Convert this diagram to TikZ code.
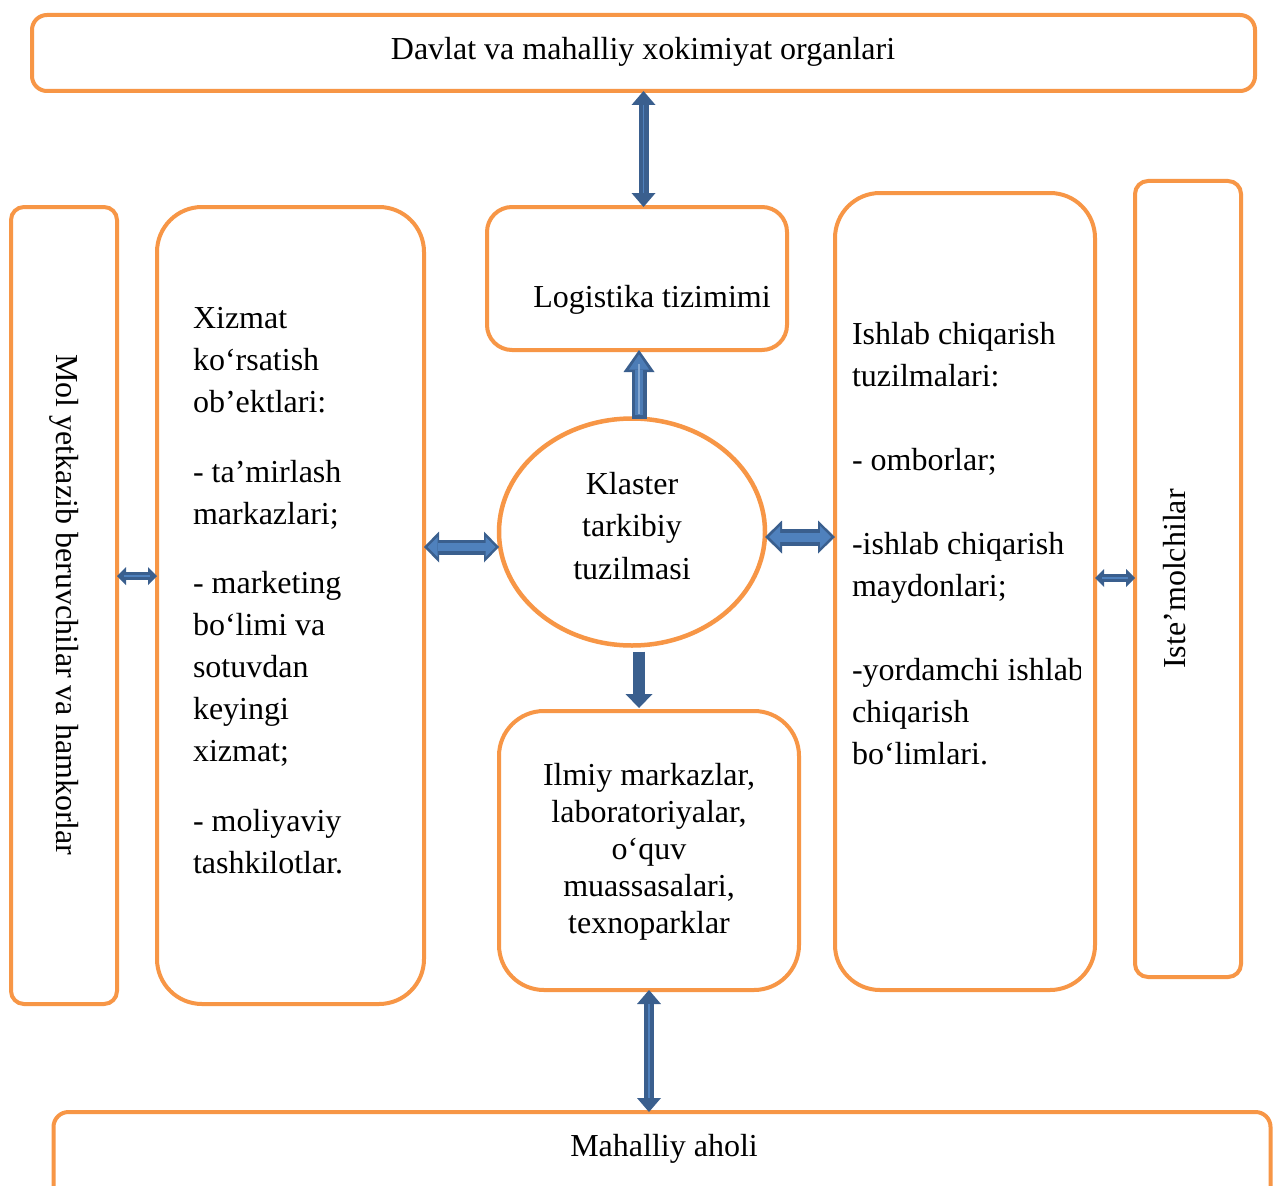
\documentclass[tikz,border=0pt]{standalone}
\usepackage{fontspec}
\setmainfont{Liberation Serif}
\usetikzlibrary{shapes.geometric,arrows.meta,calc}
\definecolor{orng}{HTML}{F79646}
\definecolor{adark}{HTML}{3A5F8E}
\definecolor{alight}{HTML}{4F81BD}
\tikzset{
  box/.style={draw=orng, line width=4pt, inner sep=0pt, outer sep=0pt, fill=white},
  txt/.style={font=\fontsize{32}{42}\selectfont, inner sep=0pt, outer sep=0pt},
  dk/.style={draw=adark, line width=#1},
  lt/.style={draw=alight, line width=#1},
}
\begin{document}
\begin{tikzpicture}[x=1pt,y=-1pt]
\clip (0,0) rectangle (1273,1185);
\fill[white] (0,0) rectangle (1273,1185);

% boxes
\node[box, rounded corners=15pt, minimum width=1223pt, minimum height=76pt] (top) at (643.5,53) {};
\node[box, rounded corners=13pt, minimum width=106pt, minimum height=797pt] (lnar) at (64,605.5) {};
\node[box, rounded corners=45pt, minimum width=267pt, minimum height=797pt] (lbig) at (290.5,605.5) {};
\node[box, rounded corners=25pt, minimum width=300pt, minimum height=143pt] (logi) at (637,278.5) {};
\node[box, ellipse, line width=4.5pt, minimum width=266pt, minimum height=227pt] (ell) at (632,532) {};
\node[box, rounded corners=45pt, minimum width=300pt, minimum height=279pt] (ilm) at (649,850.5) {};
\node[box, rounded corners=45pt, minimum width=260pt, minimum height=797pt] (rbig) at (965,591.5) {};
\node[box, rounded corners=13pt, minimum width=106pt, minimum height=796pt] (rnar) at (1188,579) {};
\node[box, rounded corners=15pt, minimum width=1217pt, minimum height=148pt] (bot) at (662,1186) {};

% texts
\node[txt] (ttop) at (643,52) {Davlat va mahalliy xokimiyat organlari};
\node[txt, rotate=-90] (tlnar) at (64,605) {Mol yetkazib beruvchilar va hamkorlar};
\node[txt, align=left, anchor=north west] (tlbig) at (193,307) {Xizmat\\ko‘rsatish\\ob’ektlari:\\[28pt]- ta’mirlash\\markazlari;\\[27pt]- marketing\\bo‘limi va\\sotuvdan\\keyingi\\xizmat;\\[28pt]- moliyaviy\\tashkilotlar.};
\node[txt] (tlogi) at (652,300) {Logistika tizimimi};
\node[txt, align=center, font=\fontsize{32}{42.5}\selectfont] (tell) at (632,526) {Klaster\\tarkibiy\\tuzilmasi};
\node[txt, align=center, font=\fontsize{32}{37}\selectfont] (tilm) at (649,852) {Ilmiy markazlar,\\laboratoriyalar,\\o‘quv\\muassasalari,\\texnoparklar};
\begin{scope}
\clip (835,193) rectangle (1080,990);
\node[txt, align=left, anchor=north west] (trbig) at (852,322) {Ishlab chiqarish\\tuzilmalari:\\[42pt]- omborlar;\\[42pt]-ishlab chiqarish\\maydonlari;\\[42pt]-yordamchi ishlab\\chiqarish\\bo‘limlari.};
\end{scope}
\node[txt, rotate=90] (trnar) at (1175,579) {Iste’molchilar};
\node[txt] (tbot) at (664,1149) {Mahalliy aholi};

% arrows
% top double
\draw[dk=10pt, {Triangle[width=24pt,length=14pt,line width=0pt]}-{Triangle[width=24pt,length=14pt,line width=0pt]}] (top.south) -- (top.south |- logi.north);
\draw[lt=1.5pt, shorten <=14pt, shorten >=14pt] (top.south) -- (top.south |- logi.north);
% ellipse -> logistika
\draw[dk=15pt, -{Triangle[width=31pt,length=22pt,line width=0pt]}] ([xshift=7pt]ell.north) -- ([xshift=7pt]ell.north |- logi.south);
\draw[draw=alight!85!adark, line width=8pt, shorten <=3.5pt, shorten >=4.5pt, -{Triangle[width=20pt,length=15pt,line width=0pt]}] ([xshift=7pt]ell.north) -- ([xshift=7pt]ell.north |- logi.south);
\draw[lt=2.5pt, draw=alight!70!white, shorten <=5pt, shorten >=14pt] ([xshift=7pt]ell.north) -- ([xshift=7pt]ell.north |- logi.south);
% ellipse <-> left big
\draw[dk=15pt, {Triangle[width=31pt,length=15pt,line width=0pt]}-{Triangle[width=31pt,length=15pt,line width=0pt]}] ([yshift=-15pt]ell.west) -- ([yshift=-15pt]ell.west -| lbig.east);
\draw[lt=8pt, shorten <=3.5pt, shorten >=3.5pt, {Triangle[width=20pt,length=10pt,line width=0pt]}-{Triangle[width=20pt,length=10pt,line width=0pt]}] ([yshift=-15pt]ell.west) -- ([yshift=-15pt]ell.west -| lbig.east);
% ellipse <-> right big
\draw[dk=17pt, {Triangle[width=33pt,length=17pt,line width=0pt]}-{Triangle[width=33pt,length=17pt,line width=0pt]}] ([yshift=-5pt]ell.east) -- ([yshift=-5pt]ell.east -| rbig.west);
\draw[lt=9pt, shorten <=4pt, shorten >=4pt, {Triangle[width=22pt,length=11pt,line width=0pt]}-{Triangle[width=22pt,length=11pt,line width=0pt]}] ([yshift=-5pt]ell.east) -- ([yshift=-5pt]ell.east -| rbig.west);
% ellipse -> ilmiy
\draw[dk=12pt, shorten <=6pt, shorten >=3pt, -{Triangle[width=27pt,length=14pt,line width=0pt]}] ([xshift=7pt]ell.south) -- ([xshift=7pt]ell.south |- ilm.north);
% ilmiy <-> bottom
\draw[dk=10pt, {Triangle[width=24pt,length=14pt,line width=0pt]}-{Triangle[width=24pt,length=14pt,line width=0pt]}] (ilm.south) -- (ilm.south |- bot.north);
\draw[lt=1.5pt, shorten <=14pt, shorten >=14pt] (ilm.south) -- (ilm.south |- bot.north);
% small left
\draw[dk=8pt, {Triangle[width=18pt,length=9pt,line width=0pt]}-{Triangle[width=18pt,length=9pt,line width=0pt]}] ([yshift=29.5pt]lnar.east) -- ([yshift=29.5pt]lnar.east -| lbig.west);
\draw[lt=1.2pt, shorten <=7pt, shorten >=7pt] ([yshift=29.5pt]lnar.east) -- ([yshift=29.5pt]lnar.east -| lbig.west);
% small right
\draw[dk=8pt, {Triangle[width=18pt,length=9pt,line width=0pt]}-{Triangle[width=18pt,length=9pt,line width=0pt]}] ([yshift=1pt]rnar.west) -- ([yshift=1pt]rnar.west -| rbig.east);
\draw[lt=1.2pt, shorten <=7pt, shorten >=7pt] ([yshift=1pt]rnar.west) -- ([yshift=1pt]rnar.west -| rbig.east);
\end{tikzpicture}
\end{document}
